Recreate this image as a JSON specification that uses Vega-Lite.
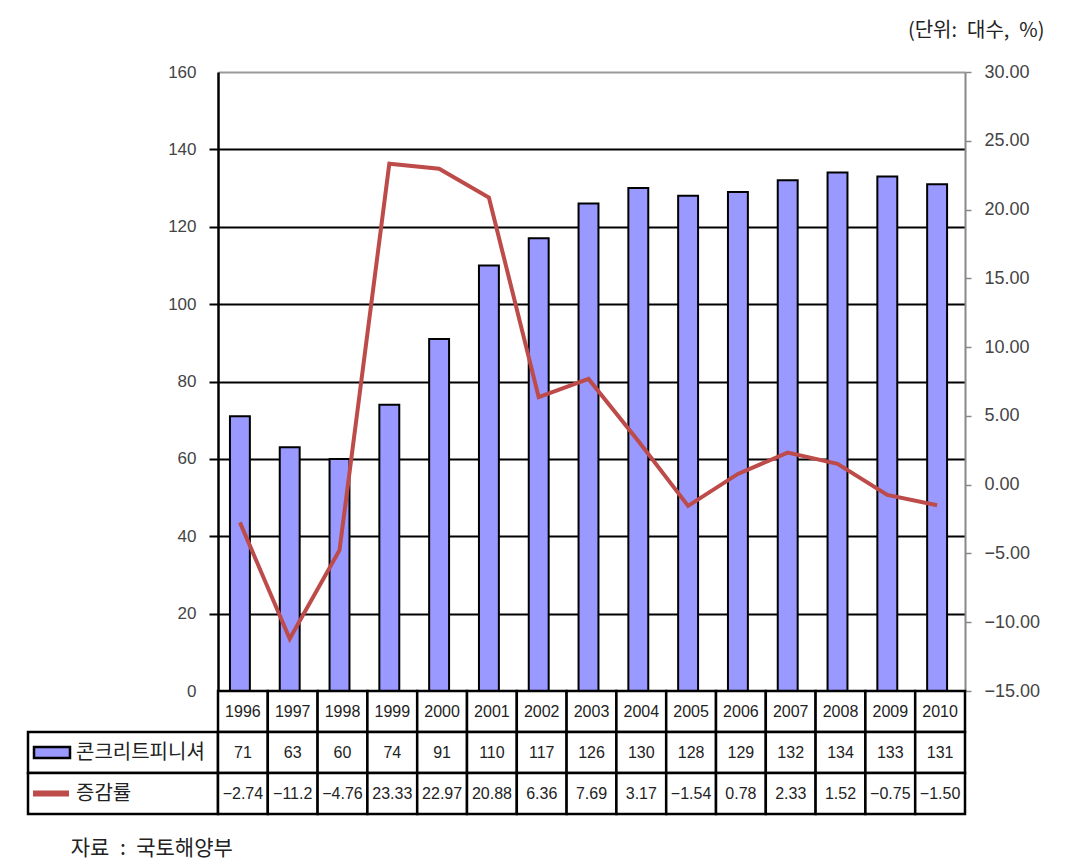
{
  "$schema": "https://vega.github.io/schema/vega-lite/v6.json",
  "background": "white",
  "padding": {"left": 26, "top": 21, "right": 0, "bottom": 0},
  "title": {"text": "(단위:\u2002대수,\u2002%)", "anchor": "end", "font": "Noto Sans CJK KR", "fontSize": 20, "fontWeight": "normal", "color": "#222", "offset": 22, "dx": 5},
  "datasets": {
    "d": [
      {"year": "1996", "units": 71, "rate": -2.74, "rateText": "−2.74"},
      {"year": "1997", "units": 63, "rate": -11.2, "rateText": "−11.2"},
      {"year": "1998", "units": 60, "rate": -4.76, "rateText": "−4.76"},
      {"year": "1999", "units": 74, "rate": 23.33, "rateText": "23.33"},
      {"year": "2000", "units": 91, "rate": 22.97, "rateText": "22.97"},
      {"year": "2001", "units": 110, "rate": 20.88, "rateText": "20.88"},
      {"year": "2002", "units": 117, "rate": 6.36, "rateText": "6.36"},
      {"year": "2003", "units": 126, "rate": 7.69, "rateText": "7.69"},
      {"year": "2004", "units": 130, "rate": 3.17, "rateText": "3.17"},
      {"year": "2005", "units": 128, "rate": -1.54, "rateText": "−1.54"},
      {"year": "2006", "units": 129, "rate": 0.78, "rateText": "0.78"},
      {"year": "2007", "units": 132, "rate": 2.33, "rateText": "2.33"},
      {"year": "2008", "units": 134, "rate": 1.52, "rateText": "1.52"},
      {"year": "2009", "units": 133, "rate": -0.75, "rateText": "−0.75"},
      {"year": "2010", "units": 131, "rate": -1.5, "rateText": "−1.50"}
    ]
  },
  "columns": 2,
  "spacing": 0,
  "bounds": "flush",
  "concat": [
    {
      "width": 190,
      "height": 619,
      "data": {"values": [{}]},
      "mark": {"type": "text", "text": ""}
    },
    {
      "width": 747,
      "height": 619,
      "data": {"name": "d"},
      "layer": [
        {
          "mark": {"type": "bar", "fill": "#9999FF", "stroke": "black", "strokeWidth": 2},
          "encoding": {
            "x": {"field": "year", "type": "ordinal", "axis": null, "scale": {"paddingInner": 0.6, "paddingOuter": 0.3, "align": 0.4}},
            "y": {
              "field": "units", "type": "quantitative",
              "scale": {"domain": [0, 160]},
              "axis": {
                "values": [0, 20, 40, 60, 80, 100, 120, 140, 160],
                "title": null,
                "grid": true,
                "gridColor": {"condition": {"test": "datum.value === 160", "value": "#999999"}, "value": "black"},
                "gridWidth": 2,
                "domainColor": "black",
                "domainWidth": 2.5,
                "tickColor": {"condition": {"test": "datum.value === 160 || datum.value === 0", "value": "transparent"}, "value": "black"},
                "tickWidth": 2,
                "tickSize": 9,
                "labelPadding": 13,
                "labelFont": "Liberation Sans",
                "labelFontSize": 17,
                "labelColor": "#444"
              }
            }
          }
        },
        {
          "mark": {"type": "line", "color": "#BD4B49", "strokeWidth": 4},
          "encoding": {
            "x": {"field": "year", "type": "ordinal", "axis": null},
            "y": {
              "field": "rate", "type": "quantitative",
              "scale": {"domain": [-15, 30]},
              "axis": {
                "orient": "right",
                "values": [-15, -10, -5, 0, 5, 10, 15, 20, 25, 30],
                "format": ".2f",
                "title": null,
                "grid": false,
                "domainColor": "#888",
                "domainWidth": 2,
                "tickColor": "#888",
                "tickWidth": 1.5,
                "tickSize": 6,
                "labelPadding": 13,
                "labelFont": "Liberation Sans",
                "labelFontSize": 18,
                "labelColor": "#444"
              }
            }
          }
        }
      ],
      "resolve": {"scale": {"y": "independent"}}
    },
    {
      "width": 190,
      "height": 123,
      "data": {"values": [
        {"row": "units", "label": "콘크리트피니셔", "kind": "bar"},
        {"row": "rateText", "label": "증감률", "kind": "line"}
      ]},
      "encoding": {
        "y": {"field": "row", "type": "nominal", "axis": null, "scale": {"domain": ["year", "units", "rateText"], "padding": 0}}
      },
      "layer": [
        {"mark": {"type": "rect", "fill": "white", "stroke": "black", "strokeWidth": 2.5}},
        {
          "transform": [{"filter": "datum.kind === 'bar'"}],
          "mark": {"type": "point", "shape": "M-1,-0.3H1V0.3H-1Z", "size": 1296, "filled": true, "fill": "#9999FF", "stroke": "black", "strokeWidth": 2.5, "opacity": 1, "xOffset": -71}
        },
        {
          "transform": [{"filter": "datum.kind === 'line'"}],
          "mark": {"type": "point", "shape": "M-1,-0.17H1V0.17H-1Z", "size": 1296, "filled": true, "fill": "#BD4B49", "strokeWidth": 0, "opacity": 1, "xOffset": -72}
        },
        {
          "mark": {"type": "text", "align": "left", "dx": -47, "font": "Noto Sans CJK KR", "fontSize": 20, "color": "#222"},
          "encoding": {"text": {"field": "label"}}
        }
      ],
      "title": {"text": "자료\u2002:\u2002국토해양부", "orient": "bottom", "anchor": "start", "offset": 23, "dx": 44, "font": "Noto Sans CJK KR", "fontSize": 21, "fontWeight": "normal", "color": "#222"}
    },
    {
      "width": 747,
      "height": 123,
      "data": {"name": "d"},
      "transform": [{"fold": ["year", "units", "rateText"], "as": ["row", "text"]}],
      "encoding": {
        "x": {"field": "year", "type": "ordinal", "axis": null, "scale": {"padding": 0}},
        "y": {"field": "row", "type": "nominal", "axis": null, "scale": {"domain": ["year", "units", "rateText"], "padding": 0}}
      },
      "layer": [
        {"mark": {"type": "rect", "fill": "white", "stroke": "black", "strokeWidth": 2.5}},
        {
          "mark": {"type": "text", "font": "Liberation Sans", "fontSize": 16, "color": "#222"},
          "encoding": {"text": {"field": "text"}}
        }
      ]
    }
  ],
  "config": {
    "view": {"stroke": null}
  }
}
